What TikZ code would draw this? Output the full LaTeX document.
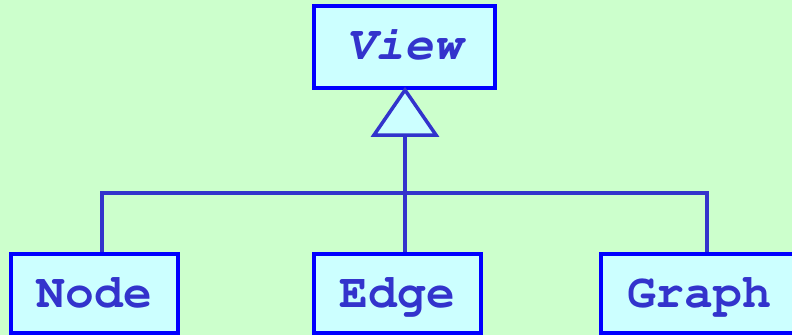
\documentclass[tikz,border=0pt]{standalone}
\usepackage[T1]{fontenc}
\usepackage{fontspec}
\usetikzlibrary{positioning,calc}

\definecolor{bggreen}{HTML}{CCFFCC}
\definecolor{boxfill}{HTML}{CCFFFF}
\definecolor{linkblue}{HTML}{3333CC}

\newcommand{\clsfont}{\fontencoding{T1}\fontfamily{pcr}\fontseries{b}\fontsize{48}{48}\selectfont}

\begin{document}
\begin{tikzpicture}[
    x=1pt, y=-1pt,
    cls/.style={rectangle, draw=blue, fill=boxfill, line width=4pt,
                minimum height=79pt, text=linkblue, inner sep=0pt,
                text height=27.5pt, text depth=0pt, font=\clsfont},
    link/.style={draw=linkblue, line width=3.5pt},
    inherit/.style={link, fill=boxfill, line join=miter}
]
    \useasboundingbox (0,0) rectangle (792,335);
    \fill[bggreen] (0,0) rectangle (792,335);
    \clip (0,0) rectangle (792,335);

    \node[cls, minimum width=181pt, minimum height=82pt, text depth=3.5pt] (view) at (404.5,47) {\itshape View};
    \node[cls, minimum width=167pt] (node) at (94.5,293.5) {Node};
    \node[cls, minimum width=167pt] (edge) at (397.5,293.5) {Edge};
    \node[cls, minimum width=196pt] (graph) at (699,293.5) {Graph};

    \coordinate (nodetop) at ([xshift=7.5pt]node.north);
    \coordinate (edgetop) at ([xshift=7.5pt]edge.north);
    \coordinate (graphtop) at ([xshift=8pt]graph.north);
    \coordinate (bus) at (405,193);

    % generalisation triangle under View
    \draw[inherit] ([xshift=0.5pt]view.south) -- ++(-31,45) coordinate (tribl)
        -- ++(62,0) -- cycle;
    \coordinate (tribase) at ($(tribl)+(31,0)$);

    \draw[link] (tribase) -- (edgetop);
    \draw[link] (nodetop) |- (bus) -| (graphtop);
\end{tikzpicture}
\end{document}
